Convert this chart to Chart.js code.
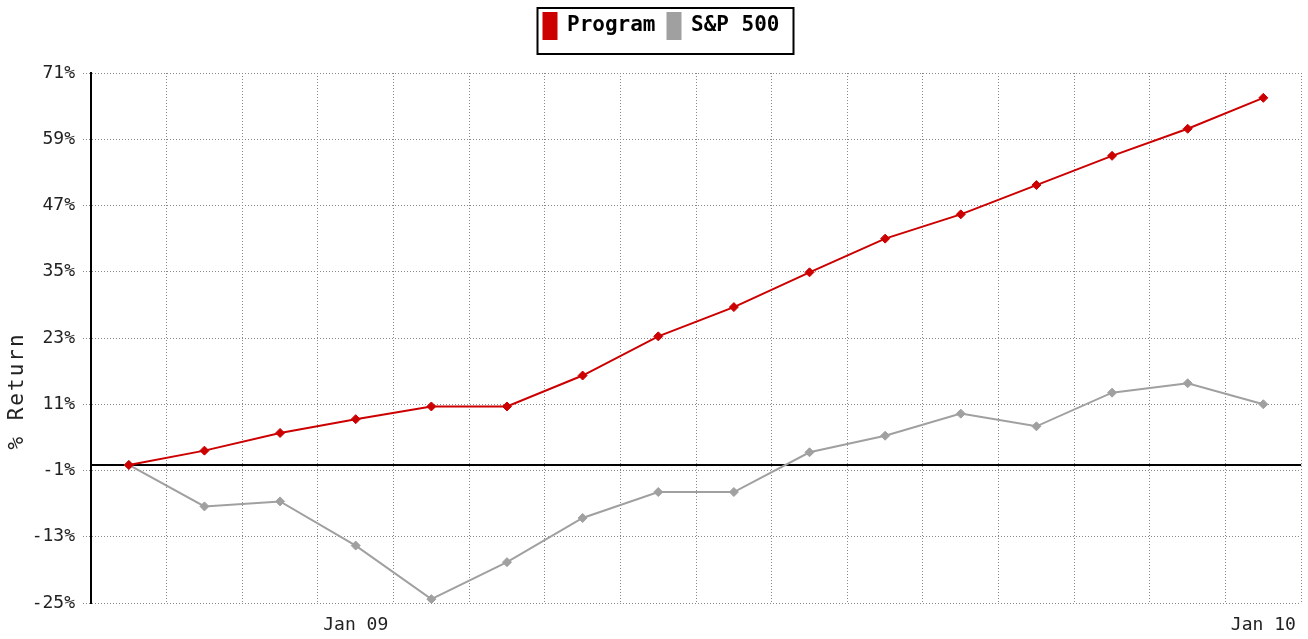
<!DOCTYPE html>
<html>
<head>
<meta charset="utf-8">
<script src="https://cdn.jsdelivr.net/npm/chart.js@4"></script>
<style>
  html, body { margin: 0; padding: 0; background: #fff; }
  #wrap { width: 1308px; height: 639px; position: relative; }
</style>
</head>
<body>
<div id="wrap"><canvas id="returnChart"></canvas></div>
<script>
// monthly cumulative returns
const months = ['Oct 08', 'Nov 08', 'Dec 08', 'Jan 09', 'Feb 09', 'Mar 09', 'Apr 09', 'May 09',
                'Jun 09', 'Jul 09', 'Aug 09', 'Sep 09', 'Oct 09', 'Nov 09', 'Dec 09', 'Jan 10'];
const programReturns = [0, 2.6, 5.8, 8.3, 10.6, 10.6, 16.2, 23.3, 28.6, 34.9, 41.0, 45.4, 50.7, 56.0, 60.9, 66.5];
const spReturns = [0, -7.5, -6.6, -14.6, -24.3, -17.6, -9.6, -4.9, -4.9, 2.3, 5.3, 9.3, 7.0, 13.1, 14.8, 11.0];
const yMin = -25, yMax = 71, yStep = 12;

const MONO = "'DejaVu Sans Mono', 'Liberation Mono', monospace";
const gridColor = '#888888';

/**
 * Zero line, legend frame, y axis title, and a bit of room under the legend.
 */
const extrasPlugin = {
    id: 'extras',
    afterInit(chart) {
        const legend = chart.legend;
        if (!legend) return;
        const origFit = legend.fit;
        legend.fit = function () {
            origFit.call(this);
            this.height += 24;
        };
    },
    beforeDatasetsDraw(chart) {
        const ctx = chart.ctx;
        const area = chart.chartArea;
        const y0 = chart.scales.y.getPixelForValue(0);
        ctx.save();
        ctx.strokeStyle = '#000';
        ctx.lineWidth = 2;
        ctx.beginPath();
        ctx.moveTo(area.left, y0);
        ctx.lineTo(area.right, y0);
        ctx.stroke();
        ctx.restore();
    },
    afterDraw(chart) {
        const ctx = chart.ctx;
        const area = chart.chartArea;
        const boxes = chart.legend.legendHitBoxes;
        if (boxes && boxes.length) {
            const first = boxes[0];
            const last = boxes[boxes.length - 1];
            const left = first.left - 6;
            const right = last.left + last.width + 14;
            const top = first.top - 5;
            const bottom = first.top + first.height + 15;
            ctx.save();
            ctx.strokeStyle = '#000';
            ctx.lineWidth = 2;
            ctx.strokeRect(left, top, right - left, bottom - top);
            ctx.restore();
        }
        ctx.save();
        ctx.translate(18, area.top + area.height * 0.6);
        ctx.rotate(-Math.PI / 2);
        ctx.font = '21px ' + MONO;
        ctx.letterSpacing = '2px';
        ctx.fillStyle = '#222';
        ctx.textAlign = 'center';
        ctx.textBaseline = 'middle';
        ctx.fillText('% Return', 0, 0);
        ctx.restore();
    }
};

function initReturnChart() {
    const canvas = document.getElementById('returnChart');
    if (!canvas) {
        console.error("Return chart canvas not found!");
        return;
    }
    const ctx = canvas.getContext('2d');
    new Chart(ctx, {
        type: 'line',
        data: {
            labels: months,
            datasets: [{
                label: 'Program',
                data: programReturns,
                borderColor: '#cc0000',
                backgroundColor: '#cc0000',
                borderWidth: 2,
                pointStyle: 'rectRot',
                pointRadius: 4.5,
                pointBorderWidth: 1,
                tension: 0
            }, {
                label: 'S&P 500',
                data: spReturns,
                borderColor: '#a0a0a0',
                backgroundColor: '#a0a0a0',
                borderWidth: 2,
                pointStyle: 'rectRot',
                pointRadius: 4.5,
                pointBorderWidth: 1,
                tension: 0
            }]
        },
        options: {
            responsive: true,
            maintainAspectRatio: false,
            animation: false,
            layout: { padding: { left: 16, right: 1, top: 1, bottom: 0 } },
            plugins: {
                tooltip: { enabled: false },
                legend: {
                    position: 'top',
                    labels: {
                        boxWidth: 13,
                        boxHeight: 26,
                        padding: 12,
                        color: '#000',
                        font: { family: MONO, size: 21, weight: 'bold' }
                    }
                }
            },
            scales: {
                x: {
                    type: 'category',
                    offset: true,
                    grid: {
                        offset: true,
                        color: gridColor,
                        drawTicks: false
                    },
                    border: { display: false, dash: [1, 2] },
                    ticks: {
                        autoSkip: false,
                        maxRotation: 0,
                        padding: 12,
                        color: '#222',
                        font: { family: MONO, size: 18 },
                        callback: function (value) {
                            const label = this.getLabelForValue(value);
                            return label.startsWith('Jan') ? label : '';
                        }
                    },
                    afterFit(scale) { scale.height = 36; }
                },
                y: {
                    min: yMin,
                    max: yMax,
                    grid: {
                        color: gridColor,
                        tickBorderDash: [1, 2],
                        tickColor: gridColor,
                        tickLength: 8
                    },
                    border: { display: true, color: '#000', width: 2, dash: [1, 2] },
                    ticks: {
                        stepSize: yStep,
                        padding: 8,
                        color: '#222',
                        font: { family: MONO, size: 18 },
                        callback: (v) => v + '%'
                    },
                    afterFit(scale) { scale.width = 75; }
                }
            }
        },
        plugins: [extrasPlugin]
    });
}

initReturnChart();
</script>
</body>
</html>
